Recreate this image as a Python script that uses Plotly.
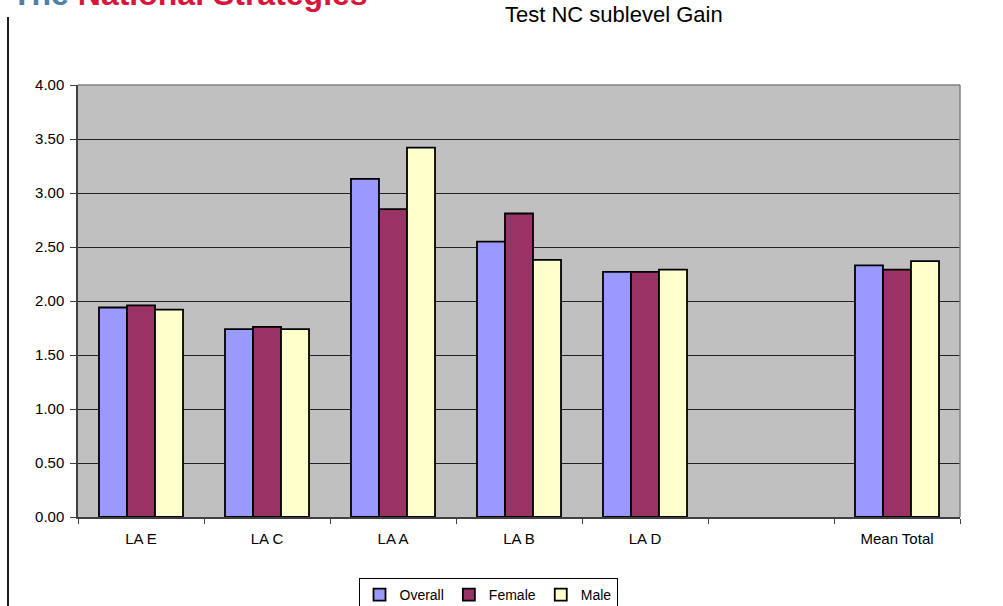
import plotly.graph_objects as go

categories = ["LA E", "LA C", "LA A", "LA B", "LA D", " ", "Mean Total"]
overall = [1.94, 1.74, 3.13, 2.55, 2.27, None, 2.33]
female = [1.96, 1.76, 2.85, 2.81, 2.27, None, 2.29]
male = [1.92, 1.74, 3.42, 2.38, 2.29, None, 2.37]
y_ticks = [0, 0.5, 1.0, 1.5, 2.0, 2.5, 3.0, 3.5, 4.0]

series = [("Overall", overall, "#9999ff"), ("Female", female, "#993366"), ("Male", male, "#ffffcc")]

fig = go.Figure()
for name, vals, col in series:
    fig.add_trace(go.Bar(x=categories, y=vals, name=name,
                         marker=dict(color=col, line=dict(color="black", width=1.8))))

W, H = 1003, 606
L, R, T, B = 78, 43, 85, 89
pw, ph = W - L - R, H - T - B

def px(x):
    return (x - L) / pw

def py(y):
    return (H - B - y) / ph

fig.update_layout(
    width=W, height=H,
    margin=dict(l=L, r=R, t=T, b=B, autoexpand=False),
    paper_bgcolor="white", plot_bgcolor="#c0c0c0",
    barmode="group", bargap=0.333, bargroupgap=0,
    font=dict(family="Liberation Sans, Arial", size=14, color="black"),
    showlegend=True,
    legend=dict(orientation="h", x=px(488), y=py(578), xanchor="center", yanchor="top",
                bordercolor="black", borderwidth=1, font=dict(size=14), itemwidth=30,
                traceorder="normal"),
    xaxis=dict(type="category", categoryorder="array", categoryarray=categories,
               showline=True, linecolor="#404040", linewidth=1.5, mirror=False,
               ticks="outside", tickson="boundaries", ticklen=5, tickcolor="#404040",
               tickfont=dict(size=15), showgrid=False, ticklabelstandoff=7),
    yaxis=dict(range=[0, 4], tickvals=y_ticks, tickformat=".2f", showgrid=True,
               gridcolor="#222222", gridwidth=1, showline=True, linecolor="#404040", linewidth=1.5,
               ticks="outside", ticklen=6, tickcolor="#404040", tickfont=dict(size=15),
               zeroline=False, ticklabelstandoff=3),
    shapes=[
        dict(type="line", xref="paper", yref="paper", x0=px(8), x1=px(8), y0=py(17), y1=py(610),
             line=dict(color="#202020", width=2)),
        dict(type="line", xref="paper", yref="paper", x0=1, x1=1, y0=0, y1=1,
             line=dict(color="#808080", width=1.5)),
        dict(type="line", xref="paper", yref="paper", x0=0, x1=1, y0=1, y1=1,
             line=dict(color="#808080", width=1.5)),
    ],
    annotations=[
        dict(text="Test NC sublevel Gain", xref="paper", yref="paper", x=px(614), y=py(14),
             xanchor="center", yanchor="middle", showarrow=False,
             font=dict(size=22, color="black")),
        dict(text="<b><span style='color:#4f7fa6'>The</span> National Strategies</b>",
             xref="paper", yref="paper", x=px(10), y=py(8), xanchor="left", yanchor="bottom",
             yshift=-6, showarrow=False, font=dict(size=32, color="#d8163c")),
    ],
)

fig.write_html("out.html", config={"displayModeBar": False},
               post_script="document.body.style.margin='0';document.body.style.overflow='hidden';")
